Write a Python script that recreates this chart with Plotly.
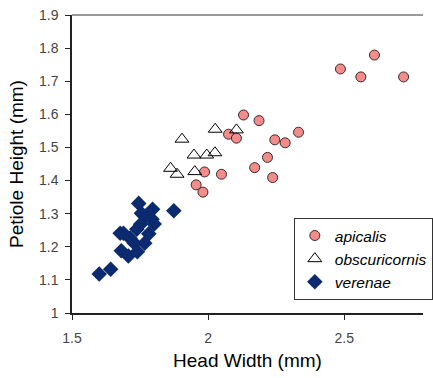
import plotly.graph_objects as go

# apicalis
api_x = [2.486, 2.561, 2.611, 2.718, 2.130, 2.187, 2.075, 2.104, 2.332, 2.245, 2.283,
         2.218, 2.171, 2.237, 1.987, 2.049, 1.956, 1.981]
api_y = [1.737, 1.713, 1.779, 1.713, 1.598, 1.581, 1.540, 1.528, 1.546, 1.523, 1.514,
         1.470, 1.439, 1.409, 1.426, 1.419, 1.387, 1.365]

# obscuricornis
obs_x = [2.026, 2.104, 1.904, 1.948, 1.995, 2.025, 1.862, 1.886, 1.951]
obs_y = [1.555, 1.553, 1.525, 1.477, 1.477, 1.484, 1.437, 1.419, 1.427]

# verenae
ver_x = [1.745, 1.796, 1.874, 1.755, 1.773, 1.794, 1.802, 1.752, 1.738, 1.782,
         1.677, 1.689, 1.713, 1.729, 1.767, 1.681, 1.740, 1.707, 1.642, 1.600]
ver_y = [1.331, 1.313, 1.309, 1.301, 1.293, 1.283, 1.269, 1.268, 1.253, 1.239,
         1.241, 1.241, 1.226, 1.211, 1.211, 1.188, 1.185, 1.172, 1.132, 1.118]

x_ticks = [1.5, 2, 2.5]
y_ticks = [1, 1.1, 1.2, 1.3, 1.4, 1.5, 1.6, 1.7, 1.8, 1.9]

fig = go.Figure()
fig.add_trace(go.Scatter(
    x=api_x, y=api_y, mode="markers", name="<i>apicalis</i>",
    marker=dict(symbol="circle", size=10, color="#F48C8C",
                line=dict(color="#3a2a2a", width=1))))
fig.add_trace(go.Scatter(
    x=obs_x, y=obs_y, mode="markers", name="<i>obscuricornis</i>",
    marker=dict(symbol="triangle-up-open", size=12, color="#000000",
                line=dict(color="#000000", width=1))))
fig.add_trace(go.Scatter(
    x=ver_x, y=ver_y, mode="markers", name="<i>verenae</i>",
    marker=dict(symbol="diamond", size=12, color="#0B2A6F",
                line=dict(color="#0B2A6F", width=0))))

fig.update_layout(
    width=433, height=378,
    margin=dict(l=72, r=0, t=15, b=65),
    paper_bgcolor="white", plot_bgcolor="white",
    font=dict(family="Liberation Sans, Arial, sans-serif", color="#000000"),
    showlegend=True,
    legend=dict(x=0.632, y=0.319, xanchor="left", yanchor="top",
                bgcolor="white", bordercolor="#333333", borderwidth=1,
                font=dict(size=15.5, color="#000000"),
                tracegroupgap=0, itemwidth=30),
    shapes=[dict(type="line", xref="paper", yref="paper", x0=0, x1=1, y0=1, y1=1,
                 line=dict(color="#9a9a9a", width=2))],
)
fig.update_xaxes(
    range=[1.5, 1.5 + 361 / 280], tickvals=x_ticks, ticktext=["1.5", "2", "2.5"],
    showgrid=False, zeroline=False, showline=True, linecolor="#222222", linewidth=1.5,
    ticks="outside", ticklen=5, tickcolor="#222222",
    tickfont=dict(size=14, color="#444444"), ticklabelstandoff=6,
    title=dict(text="Head Width (mm)", font=dict(size=19, color="#000000"), standoff=9),
)
fig.update_yaxes(
    range=[1.0, 1.9], tickvals=y_ticks, ticktext=[str(v) for v in y_ticks],
    showgrid=False, zeroline=False, showline=True, linecolor="#222222", linewidth=1.5,
    ticks="outside", ticklen=5, tickcolor="#222222",
    tickfont=dict(size=14, color="#444444"), ticklabelstandoff=4,
    title=dict(text="Petiole Height (mm)", font=dict(size=19, color="#000000"), standoff=10),
)

fig.write_html("out.html")
